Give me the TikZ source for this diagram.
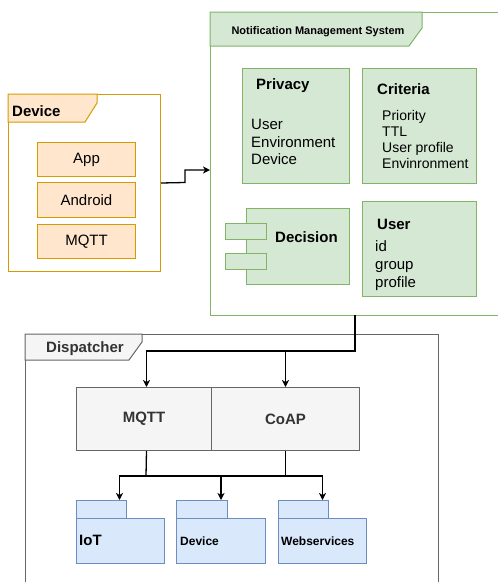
\documentclass[tikz,border=0pt]{standalone}
\usepackage{fontspec}
\setmainfont{Liberation Sans}
\usetikzlibrary{arrows.meta,calc}
\definecolor{gfill}{HTML}{D5E8D4}
\definecolor{gline}{HTML}{82B366}
\definecolor{ofill}{HTML}{FFE6CC}
\definecolor{oline}{HTML}{D79B00}
\definecolor{bfill}{HTML}{DAE8FC}
\definecolor{bline}{HTML}{6C8EBF}
\definecolor{kfill}{HTML}{F5F5F5}
\definecolor{kline}{HTML}{666666}
\definecolor{ktext}{HTML}{333333}
\tikzset{
  box/.style={draw, line width=1pt, inner sep=0pt, anchor=north west, rectangle},
  gbox/.style={box, fill=gfill, draw=gline},
  obox/.style={box, fill=ofill, draw=oline},
  bbox/.style={box, fill=bfill, draw=bline},
  kbox/.style={box, fill=kfill, draw=kline},
  txt/.style={inner sep=0pt, anchor=west, align=left},
  fxv/.style={font=\fontsize{15}{17.5}\selectfont},
  fxiv/.style={font=\fontsize{14}{16.3}\selectfont},
  fbxv/.style={font=\fontsize{15}{17.5}\selectfont\bfseries},
  fbxii/.style={font=\fontsize{12}{14}\selectfont\bfseries},
  arr/.style={line width=1.3pt, -{Stealth[length=7pt,width=7pt,inset=2pt]}},
  ln/.style={line width=1.3pt},
}
\begin{document}
\begin{tikzpicture}[x=1pt,y=-1pt]
\clip (0,0) rectangle (498,582);
\fill[white] (0,0) rectangle (498,582);
% ---------- Notification Management System frame
\node[box, draw=gline, fill=white, minimum width=300pt, minimum height=303pt] (nms) at (210,12) {};
\draw[line width=1pt, draw=gline, fill=gfill] (210,12) -- (422,12) -- (422,28) -- (409,46) -- (210,46) -- cycle;
\node[inner sep=0pt, font=\fontsize{11}{13}\selectfont\bfseries] (nmst) at (318,32) {Notification Management System};
% Privacy
\node[gbox, minimum width=107pt, minimum height=115pt] (privacy) at (242,68) {};
\node[txt, fbxv] (privacyt) at (256,86) {Privacy};
\node[txt, fxv] (privacyl) at (251,142) {User\\Environment\\Device};
% Criteria
\node[gbox, minimum width=114pt, minimum height=115pt] (criteria) at (362,68) {};
\node[txt, fbxv] (criteriat) at (377,89) {Criteria};
\node[txt, fxiv] (criterial) at (382,139.5) {Priority\\TTL\\User profile\\Envinronment};
% Decision (component)
\node[gbox, minimum width=103pt, minimum height=76pt] (decision) at (246,208) {};
\node[gbox, minimum width=41pt, minimum height=16pt] (decp1) at (225,223) {};
\node[gbox, minimum width=41pt, minimum height=16pt] (decp2) at (225,253) {};
\node[txt, fbxv] (decisiont) at (275,237) {Decision};
% User
\node[gbox, minimum width=114pt, minimum height=95pt] (user) at (362,201) {};
\node[txt, fbxv] (usert) at (377,224) {User};
\node[txt, font=\fontsize{15}{18}\selectfont] (userl) at (375,266) {id\\group\\profile};
% ---------- Device frame
\node[box, draw=oline, fill=white, minimum width=152pt, minimum height=177pt] (devf) at (8,94) {};
\draw[line width=1pt, draw=oline, fill=ofill] (8,94) -- (97,94) -- (97,103) -- (85,122) -- (8,122) -- cycle;
\node[txt, fbxv] (devft) at (12,111) {Device};
\node[obox, minimum width=98pt, minimum height=34pt, fxv] (app) at (37,142) {App};
\node[obox, minimum width=98pt, minimum height=35pt, fxv] (android) at (37,182) {Android};
\node[obox, minimum width=98pt, minimum height=34pt, fxv] (mqttd) at (37,224) {MQTT};
% arrow device -> NMS
\coordinate (nmsin) at (210,170);
\draw[arr] (devf.east) -- (185,182.5) |- (nmsin);
% ---------- Dispatcher frame
\node[box, draw=kline, fill=white, minimum width=413pt, minimum height=280pt] (disp) at (25,334) {};
\draw[line width=1pt, draw=kline, fill=kfill] (25,334) -- (142,334) -- (142,342) -- (129,360) -- (25,360) -- cycle;
\node[txt, fbxv, text=ktext] (dispt) at (46,349) {Dispatcher};
\node[kbox, minimum width=135pt, minimum height=63pt, fbxv, text=ktext] (mqtt) at (76,387) {MQTT};
\node[kbox, minimum width=148pt, minimum height=63pt, fbxv, text=ktext] (coap) at (211,387) {CoAP};
% NMS -> protocols
\coordinate (nmsout) at (355,315);
\coordinate (j1) at (355,351);
\draw[arr] (nmsout) -- (j1) -| ([xshift=2.5pt]mqtt.north);
\draw[arr] (coap.north |- j1) -- (coap.north);
% ---------- folders
\node[bbox, minimum width=50pt, minimum height=18pt] (iottab) at (76,500) {};
\node[bbox, minimum width=88pt, minimum height=45pt] (iot) at (76,518) {};
\node[txt, fbxv] (iott) at (79,540) {IoT};
\node[bbox, minimum width=51pt, minimum height=18pt] (devtab) at (176,500) {};
\node[bbox, minimum width=89pt, minimum height=45pt] (dev) at (176,518) {};
\node[txt, fbxii] (devt) at (180,541) {Device};
\node[bbox, minimum width=50pt, minimum height=18pt] (webtab) at (278,500) {};
\node[bbox, minimum width=88pt, minimum height=45pt] (web) at (278,518) {};
\node[txt, fbxii] (webt) at (281,541) {Webservices};
% protocols -> folders
\coordinate (j2) at (146,476);
\draw[ln] ([xshift=2.5pt]mqtt.south) -- (j2);
\draw[ln] (coap.south) -- (coap.south |- j2);
\draw[arr] (j2) -| ([xshift=18pt]iottab.north);
\draw[arr] (j2) -| ([xshift=19pt]devtab.north);
\draw[arr] (j2) -| ([xshift=19pt]webtab.north);
\end{tikzpicture}
\end{document}
